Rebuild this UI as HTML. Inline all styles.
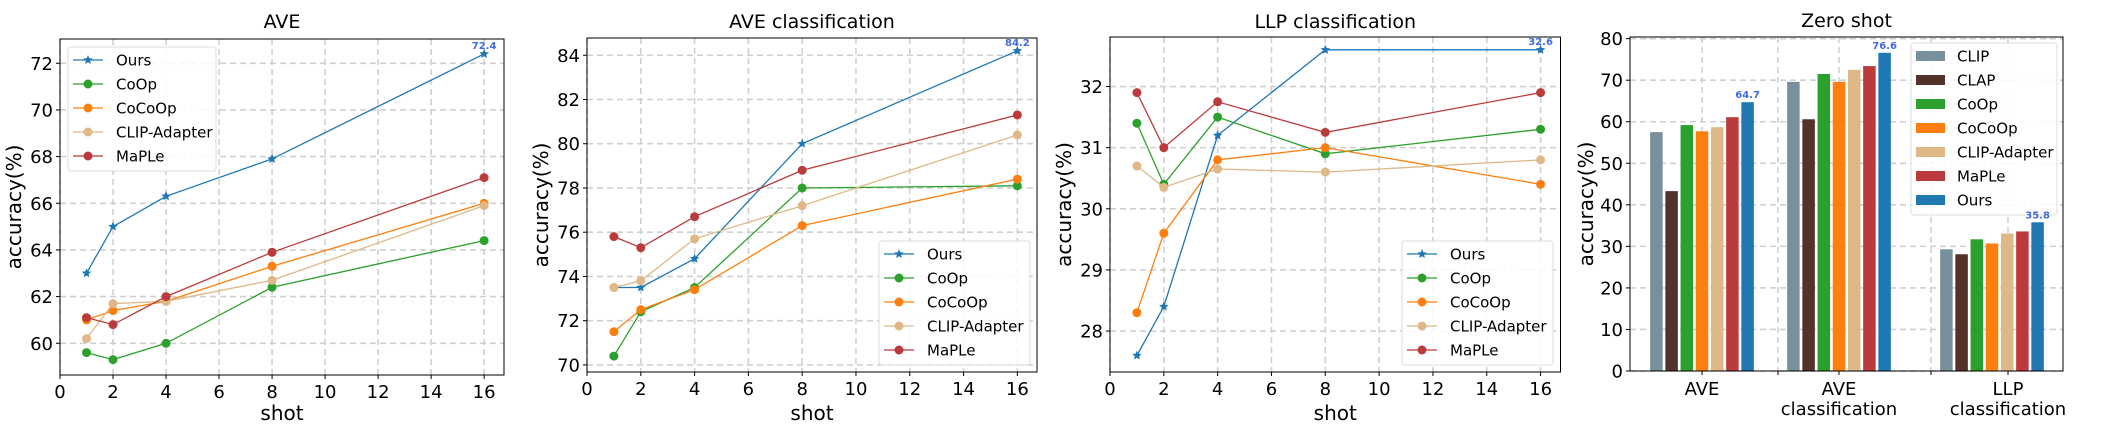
<!DOCTYPE html>
<html><head><meta charset="utf-8"><style>
body{margin:0;background:#fff;}
svg{display:block;font-family:"DejaVu Sans","Liberation Sans",sans-serif;}
</style></head><body>
<svg id="fig" width="2103" height="435" viewBox="0 0 2103 435" xmlns="http://www.w3.org/2000/svg"></svg>
<script>
// ---- data ----
const shots = [1, 2, 4, 8, 16];
const seriesNames = ["Ours", "CoOp", "CoCoOp", "CLIP-Adapter", "MaPLe"];
const aveOurs = [63.0, 65.0, 66.3, 67.9, 72.4];
const aveCoOp = [59.6, 59.3, 60.0, 62.4, 64.4];
const aveCoCoOp = [61.0, 61.4, 61.8, 63.3, 66.0];
const aveAdapter = [60.2, 61.7, 61.8, 62.7, 65.9];
const aveMaPLe = [61.1, 60.8, 62.0, 63.9, 67.1];
const aveClsOurs = [73.5, 73.5, 74.8, 80.0, 84.2];
const aveClsCoOp = [70.4, 72.4, 73.5, 78.0, 78.1];
const aveClsCoCoOp = [71.5, 72.5, 73.4, 76.3, 78.4];
const aveClsAdapter = [73.5, 73.8, 75.7, 77.2, 80.4];
const aveClsMaPLe = [75.8, 75.3, 76.7, 78.8, 81.3];
const llpOurs = [27.6, 28.4, 31.2, 32.6, 32.6];
const llpCoOp = [31.4, 30.4, 31.5, 30.9, 31.3];
const llpCoCoOp = [28.3, 29.6, 30.8, 31.0, 30.4];
const llpAdapter = [30.7, 30.35, 30.65, 30.6, 30.8];
const llpMaPLe = [31.9, 31.0, 31.75, 31.25, 31.9];
const xTicks = [0, 2, 4, 6, 8, 10, 12, 14, 16];
const aveYTicks = [60, 62, 64, 66, 68, 70, 72];
const aveClsYTicks = [70, 72, 74, 76, 78, 80, 82, 84];
const llpYTicks = [28, 29, 30, 31, 32];
const zsCategories = ["AVE", "AVE\nclassification", "LLP\nclassification"];
const zsMethods = ["CLIP", "CLAP", "CoOp", "CoCoOp", "CLIP-Adapter", "MaPLe", "Ours"];
const zsCLIP = [57.5, 69.6, 29.3];
const zsCLAP = [43.3, 60.6, 28.1];
const zsCoOp = [59.2, 71.5, 31.7];
const zsCoCoOp = [57.7, 69.6, 30.7];
const zsAdapter = [58.7, 72.5, 33.1];
const zsMaPLe = [61.1, 73.4, 33.6];
const zsOurs = [64.7, 76.6, 35.8];
const zsYTicks = [0, 10, 20, 30, 40, 50, 60, 70, 80];

const NS = "http://www.w3.org/2000/svg";
const svg = document.getElementById("fig");
const COLORS = {Ours:"#1f77b4", CoOp:"#2ca02c", CoCoOp:"#ff7f0e", "CLIP-Adapter":"#deb887", MaPLe:"#bb3a3c", CLIP:"#78909c", CLAP:"#54322b"};
const TICK = 18, TITLE = 19, AXT = 20, LEG = 15;
function el(tag, attrs, parent, text){
  const e = document.createElementNS(NS, tag);
  for (const k in attrs) e.setAttribute(k, attrs[k]);
  if (text !== undefined) e.textContent = text;
  (parent || svg).appendChild(e);
  return e;
}
function star(cx, cy, r){
  let p = [];
  for (let i = 0; i < 10; i++){
    const a = -Math.PI/2 + i*Math.PI/5, rr = i%2 ? r*0.45 : r;
    p.push((cx + rr*Math.cos(a)).toFixed(1) + "," + (cy + rr*Math.sin(a)).toFixed(1));
  }
  return p.join(" ");
}

function lineChart(cfg){
  const g = el("g", {});
  
  
  const {L, R, T, B, xmax, ymin, ymax} = cfg;
  const sx = v => L + v/xmax*(R-L);
  const sy = v => B - (v-ymin)/(ymax-ymin)*(B-T);
  xTicks.forEach(t => { const gl = el("line", {x1:sx(t), x2:sx(t), y1:T, y2:B, stroke:"#d0d0d0", "stroke-width":1.6, "stroke-dasharray":"6,4"}, g);
      });
  cfg.yTicks.forEach(t => { const gl = el("line", {x1:L, x2:R, y1:sy(t), y2:sy(t), stroke:"#d0d0d0", "stroke-width":1.6, "stroke-dasharray":"6,4"}, g);
      });
  cfg.series.forEach((vals, i) => {
    const nm = seriesNames[i], c = COLORS[nm];
    const pts = vals.map((v, j) => sx(shots[j]).toFixed(1) + "," + sy(v).toFixed(1)).join(" ");
    const pl = el("polyline", {points:pts, fill:"none", stroke:c, "stroke-width":1.3}, g);
    
    
    vals.forEach((v, j) => {
      let m;
      if (i === 0) m = el("polygon", {points:star(sx(shots[j]), sy(v), 5), fill:c}, g);
      else m = el("circle", {cx:sx(shots[j]), cy:sy(v), r:4.5, fill:c}, g);
      
      
    });
  });
  const last = cfg.series[0][4];
  const an = el("text", {x:sx(16), y:sy(last)-5, "text-anchor":"middle", "font-size":10, "font-weight":"bold", fill:"#4169e1"}, g, last.toFixed(1));
  
  
  const fr = el("rect", {x:L, y:T, width:R-L, height:B-T, fill:"none", stroke:"#000", "stroke-width":1}, g);
   
  xTicks.forEach(t => {
    el("line", {x1:sx(t), x2:sx(t), y1:B, y2:B+4, stroke:"#000"}, g);
    const tl = el("text", {x:sx(t), y:B+23, "text-anchor":"middle", "font-size":TICK}, g, t);
     
  });
  cfg.yTicks.forEach(t => {
    el("line", {x1:L-4, x2:L, y1:sy(t), y2:sy(t), stroke:"#000"}, g);
    const tl = el("text", {x:L-7, y:sy(t)+6.5, "text-anchor":"end", "font-size":TICK}, g, t);
     
  });
  const tt = el("text", {x:(L+R)/2, y:28, "text-anchor":"middle", "font-size":TITLE}, g, cfg.title);
   
  const xl = el("text", {x:(L+R)/2, y:420, "text-anchor":"middle", "font-size":AXT}, g, "shot");
   
  const yl = el("text", {x:0, y:0, "text-anchor":"middle", "font-size":AXT, transform:`translate(${cfg.ylx},${(T+B)/2}) rotate(-90)`}, g, "accuracy(%)");
   
  const lg = el("g", {}, g);
   
  el("rect", {x:cfg.lx, y:cfg.ly, width:cfg.lw, height:124, rx:3, fill:"#fff", "fill-opacity":0.85, stroke:"#ddd"}, lg);
  seriesNames.forEach((nm, i) => {
    const y = cfg.ly + 13 + i*24, c = COLORS[nm];
    const e = el("g", {}, lg);
     
    el("line", {x1:cfg.lx+5, x2:cfg.lx+35, y1:y, y2:y, stroke:c, "stroke-width":1.3}, e);
    if (i === 0) el("polygon", {points:star(cfg.lx+20, y, 5), fill:c}, e);
    else el("circle", {cx:cfg.lx+20, cy:y, r:4.5, fill:c}, e);
    el("text", {x:cfg.lx+48, y:y+5.5, "font-size":LEG}, e, nm);
  });
}

lineChart({name:"ave-chart", title:"AVE", L:60, R:504, T:39, B:375, xmax:16.75, ymin:58.64, ymax:73.04,
  yTicks:aveYTicks, series:[aveOurs, aveCoOp, aveCoCoOp, aveAdapter, aveMaPLe], ylx:21, lx:68, ly:47, lw:148});
lineChart({name:"ave-classification-chart", title:"AVE classification", L:587, R:1037, T:38, B:372, xmax:16.73, ymin:69.68, ymax:84.78,
  yTicks:aveClsYTicks, series:[aveClsOurs, aveClsCoOp, aveClsCoCoOp, aveClsAdapter, aveClsMaPLe], ylx:548, lx:879, ly:241, lw:151});
lineChart({name:"llp-classification-chart", title:"LLP classification", L:1110, R:1560.5, T:37, B:372, xmax:16.74, ymin:27.33, ymax:32.81,
  yTicks:llpYTicks, series:[llpOurs, llpCoOp, llpCoCoOp, llpAdapter, llpMaPLe], ylx:1071, lx:1402, ly:241, lw:151});

// ---- zero-shot bar chart ----
(function(){
  const g = el("g", {});
  
  
  const L = 1630, R = 2063, T = 37, B = 371, ymax = 80.4;
  const sy = v => B - v/ymax*(B-T);
  const groupCenters = [1702, 1839, 1992];
  const tickPos = [1702, 1839, 2008];
  const minorTicks = [1778, 1931];
  const step = 15.2, bw = 12.5;
  [...tickPos, ...minorTicks].forEach(x => { const gl = el("line", {x1:x, x2:x, y1:T, y2:B, stroke:"#d0d0d0", "stroke-width":1.6, "stroke-dasharray":"6,4"}, g);
      });
  zsYTicks.forEach(t => { const gl = el("line", {x1:L, x2:R, y1:sy(t), y2:sy(t), stroke:"#d0d0d0", "stroke-width":1.6, "stroke-dasharray":"6,4"}, g);
      });
  const all = [zsCLIP, zsCLAP, zsCoOp, zsCoCoOp, zsAdapter, zsMaPLe, zsOurs];
  all.forEach((vals, i) => {
    const nm = zsMethods[i];
    vals.forEach((v, j) => {
      const cx = groupCenters[j] + (i-3)*step;
      const b = el("rect", {x:cx-bw/2, y:sy(v), width:bw, height:B-sy(v), fill:COLORS[nm]}, g);
      
      
    });
  });
  const fr = el("rect", {x:L, y:T, width:R-L, height:B-T, fill:"none", stroke:"#000"}, g);
   
  zsYTicks.forEach(t => {
    el("line", {x1:L-4, x2:L, y1:sy(t), y2:sy(t), stroke:"#000"}, g);
    const tl = el("text", {x:L-7, y:sy(t)+6.5, "text-anchor":"end", "font-size":TICK}, g, t);
     
  });
  [...tickPos, ...minorTicks].forEach(x => el("line", {x1:x, x2:x, y1:B, y2:B+4, stroke:"#000"}, g));
  zsCategories.forEach((c, j) => {
    c.split("\n").forEach((ln, k) => {
      const tl = el("text", {x:tickPos[j], y:B+24+k*20, "text-anchor":"middle", "font-size":TICK}, g, ln);
       
    });
  });
  const tt = el("text", {x:(L+R)/2, y:27, "text-anchor":"middle", "font-size":TITLE}, g, "Zero shot");
   
  const yl = el("text", {x:0, y:0, "text-anchor":"middle", "font-size":AXT, transform:`translate(1593,${(T+B)/2}) rotate(-90)`}, g, "accuracy(%)");
   
  const lg = el("g", {}, g);
   
  el("rect", {x:1911, y:43, width:146, height:172, rx:3, fill:"#fff", "fill-opacity":0.85, stroke:"#ddd"}, lg);
  zsMethods.forEach((nm, i) => {
    const y = 56 + i*24;
    const e = el("g", {}, lg);
     
    el("rect", {x:1916, y:y-5, width:29, height:10, fill:COLORS[nm]}, e);
    el("text", {x:1957, y:y+5.5, "font-size":LEG}, e, nm);
  });
  zsOurs.forEach((v, j) => {
    const cx = groupCenters[j] + 3*step;
    const a = el("text", {x:cx, y:sy(v)-4, "text-anchor":"middle", "font-size":10, "font-weight":"bold", fill:"#4169e1"}, g, v.toFixed(1));
     
  });
})();
</script>
</body></html>
